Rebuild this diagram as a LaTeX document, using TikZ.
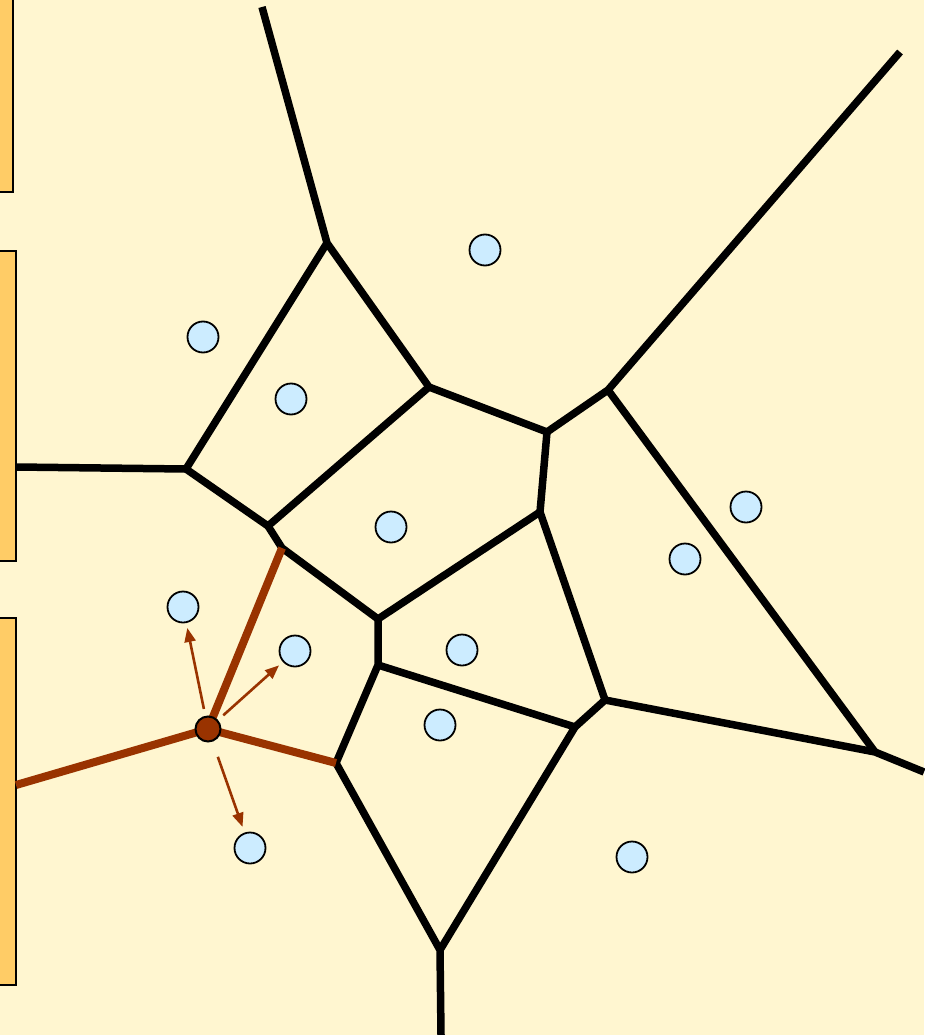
\documentclass[tikz,border=0pt]{standalone}
\usepackage{xcolor}
\usepackage{tikz}
\usetikzlibrary{positioning, arrows.meta}
\definecolor{bgyellow}{HTML}{FFF6D0}
\definecolor{baryellow}{HTML}{FFCC66}
\definecolor{siteblue}{HTML}{CCECFF}
\definecolor{edgebrown}{HTML}{993300}

\begin{document}
\begin{tikzpicture}[x=1pt, y=-1pt,
    cell/.style={line width=7.5pt, line join=round, black},
    hot/.style={line width=8pt, edgebrown},
    site/.style={circle, draw=black, line width=1.8pt, fill=siteblue,
                 minimum size=31pt, inner sep=0pt},
    probe/.style={circle, draw=black, line width=2pt, fill=edgebrown,
                  minimum size=25pt, inner sep=0pt},
    ray/.style={draw=edgebrown, line width=2.6pt,
                -{Triangle[length=14pt, width=11pt]}},
    bar/.style={fill=baryellow, draw=black, line width=2pt}]
    \fill[bgyellow] (0,0) rectangle (924,1035);
    \useasboundingbox (0,0) rectangle (924,1035);

    \draw[bar] (-5,-5) rectangle (13,192);
    \draw[bar] (-5,251) rectangle (16,561);
    \draw[bar] (-5,618) rectangle (16,985);

    \coordinate (top1) at (262,7);
    \coordinate (top2) at (900,52);
    \coordinate (left1) at (16,467);
    \coordinate (left2) at (16,785);
    \coordinate (right1) at (924,772);
    \coordinate (bottom1) at (441,1035);
    \coordinate (vB) at (327,243);
    \coordinate (vC) at (186,469);
    \coordinate (vD) at (429,387);
    \coordinate (vE) at (268,526);
    \coordinate (vI) at (282,548);
    \coordinate (vF) at (547,432);
    \coordinate (vG) at (608,390);
    \coordinate (vH) at (540,512);
    \coordinate (vJ) at (378,619);
    \coordinate (vK) at (378,665);
    \coordinate (vL) at (336,763);
    \coordinate (vM) at (575,727);
    \coordinate (vN) at (440,950);
    \coordinate (vO) at (605,700);
    \coordinate (vQ) at (875,752);

    \draw[cell] (top1) -- (vB) -- (vD) -- (vF) -- (vG) -- (top2);
    \draw[cell] (vB) -- (vC) -- (left1);
    \draw[cell] (vC) -- (vE) -- (vD);
    \draw[cell] (vE) -- (vI) -- (vJ) -- (vH) -- (vF);
    \draw[cell] (vJ) -- (vK) -- (vL) -- (vN) -- (bottom1);
    \draw[cell] (vK) -- (vM) -- (vN);
    \draw[cell] (vM) -- (vO) -- (vH);
    \draw[cell] (vO) -- (vQ) -- (right1);
    \draw[cell] (vG) -- (vQ);

    \draw[hot] (left2) -- (208,729) -- (vI);
    \draw[hot] (208,729) -- (vL);

    \node[site] (s1) at (485,250) {};
    \node[site] (s2) at (203,337) {};
    \node[site] (s3) at (291,399) {};
    \node[site] (s4) at (391,527) {};
    \node[site] (s5) at (746,507) {};
    \node[site] (s6) at (685,559) {};
    \node[site] (s7) at (183,607) {};
    \node[site] (s8) at (295,651) {};
    \node[site] (s9) at (462,650) {};
    \node[site] (s10) at (440,725) {};
    \node[site] (s11) at (250,848) {};
    \node[site] (s12) at (632,857) {};

    \node[probe] (p) at (208,729) {};

    \draw[ray, shorten <=7pt, shorten >=5pt] (p) -- (s7);
    \draw[ray, shorten <=7pt, shorten >=5pt] (p) -- (s8);
    \draw[ray, shorten <=16pt, shorten >=6pt] (p) -- (s11);
  \end{tikzpicture}
\end{document}
